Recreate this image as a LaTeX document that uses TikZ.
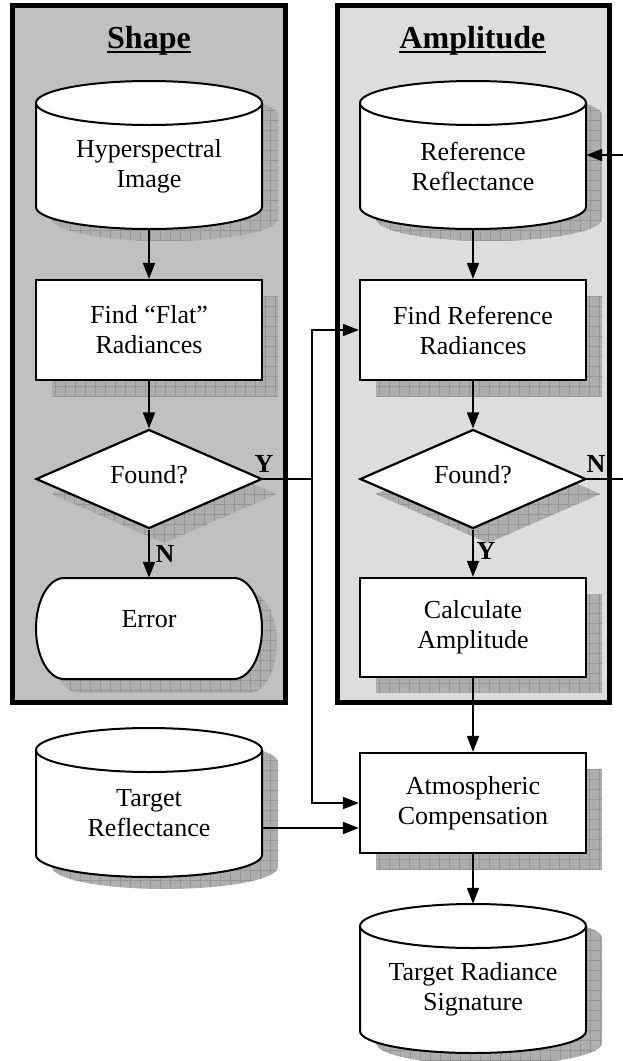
\documentclass[tikz,border=0pt]{standalone}
\usepackage{fontspec}
\setmainfont{Liberation Serif}
\usetikzlibrary{shapes.geometric, arrows.meta, calc}
\pgfdeclarelayer{bg}
\pgfdeclarelayer{shd}
\pgfsetlayers{bg,shd,main}
\definecolor{darkpanel}{RGB}{192,192,192}
\definecolor{lightpanel}{RGB}{221,221,221}
\definecolor{shadowfill}{RGB}{174,174,174}
\definecolor{shadowgrid}{RGB}{150,150,150}
% cylinder outline: options, cx, y of top ellipse centre, y of bottom ellipse centre
\newcommand{\mycyl}[4]{%
  \path[#1] ({#2-113},#3) -- ({#2-113},#4)
    arc[start angle=180, end angle=360, x radius=113pt, y radius=22pt]
    -- ({#2+113},#3)
    arc[start angle=0, end angle=180, x radius=113pt, y radius=22pt] -- cycle;}
\newcommand{\mycyltop}[3]{%
  \path[#1] ({#2-113},#3) arc[start angle=180, end angle=360, x radius=113pt, y radius=22pt];}
% terminal (Error) outline: options, dx, dy
\newcommand{\myerr}[3]{%
  \path[#1] ({64+#2},{578+#3}) -- ({234+#2},{578+#3})
    arc[start angle=90, end angle=-90, x radius=28pt, y radius=50.5pt]
    -- ({64+#2},{679+#3})
    arc[start angle=270, end angle=90, x radius=28pt, y radius=50.5pt] -- cycle;}
\begin{document}
\begin{tikzpicture}[x=1pt,y=-1pt,
  every node/.style={inner sep=0pt},
  panel/.style={rectangle, draw=black, line width=5pt},
  titlest/.style={font=\fontsize{32pt}{36pt}\selectfont\bfseries, anchor=base},
  txt/.style={font=\fontsize{26pt}{30pt}\selectfont, align=center},
  lbl/.style={font=\fontsize{26pt}{30pt}\selectfont\bfseries},
  holder/.style={rectangle, draw=none, minimum width=226pt},
  procbox/.style={rectangle, draw=black, fill=white, line width=2.2pt,
    minimum width=226pt, minimum height=100pt, align=center,
    font=\fontsize{26pt}{30pt}\selectfont},
  decision/.style={diamond, draw=black, fill=white, line width=2.2pt,
    minimum width=226pt, minimum height=99pt},
  cylst/.style={draw=black, fill=white, line width=2pt},
  shadowst/.style={fill=shadowfill, path picture={
    \draw[shadowgrid, line width=0.8pt, step=10pt]
      (path picture bounding box.south west) grid (path picture bounding box.north east);}},
  conn/.style={draw=black, line width=1.8pt},
  arrow/.style={conn, -{Triangle[length=16pt, width=12pt]}},
  uline/.style={draw=black, line width=2.5pt}
]
\useasboundingbox (0,0) rectangle (623,1061);

% panels
\begin{pgfonlayer}{bg}
  \node[panel, fill=darkpanel, minimum width=273.5pt, minimum height=697.5pt] (shapepanel) at (148.75,353.75) {};
  \node[panel, fill=lightpanel, minimum width=272.5pt, minimum height=697.5pt] (amppanel) at (473.25,353.75) {};
\end{pgfonlayer}

% titles
\node[titlest] (shapettl) at (149,48) {Shape};
\node[titlest] (ampttl) at (472.5,48) {Amplitude};
\draw[uline] ([yshift=-4pt]shapettl.base west) -- ([yshift=-4pt]shapettl.base east);
\draw[uline] ([yshift=-4pt]ampttl.base west) -- ([yshift=-4pt]ampttl.base east);

% cylinder holders
\node[holder, minimum height=148pt] (hyp) at (149,155) {};
\node[holder, minimum height=148pt] (refl) at (473,155) {};
\node[holder, minimum height=149pt] (trefl) at (149,802.5) {};
\node[holder, minimum height=149pt] (trs) at (473,978.5) {};
\node[holder, minimum height=101pt] (err) at (149,628.5) {};

% cylinder and terminal outlines
\mycyl{cylst}{149}{103}{207}
\mycyltop{cylst}{149}{103}
\mycyl{cylst}{473}{103}{207}
\mycyltop{cylst}{473}{103}
\mycyl{cylst}{149}{750}{855}
\mycyltop{cylst}{149}{750}
\mycyl{cylst}{473}{926}{1031}
\mycyltop{cylst}{473}{926}
\myerr{cylst}{0}{0}

% texts of cylinders and terminal
\node[txt] (hypt) at (149,166) {Hyperspectral\\Image};
\node[txt] (reflt) at (473,166) {Reference\\Reflectance};
\node[txt] (trefltxt) at (149,813.5) {Target\\Reflectance};
\node[txt] (trstxt) at (473,989.5) {Target Radiance\\Signature};
\node[txt, anchor=base] (errt) at (149,627) {Error};

% process boxes
\node[procbox] (flat) at (149,330) {Find “Flat”\\Radiances};
\node[procbox] (refrad) at (473,330) {Find Reference\\Radiances};
\node[procbox, minimum height=99pt] (calc) at (473,627.5) {Calculate\\Amplitude};
\node[procbox] (atm) at (473,803) {Atmospheric\\Compensation};

% decisions
\node[decision] (found1) at (149,479) {};
\node[txt, anchor=base] (found1t) at (149,483) {Found?};
\node[decision] (found2) at (473,479) {};
\node[txt, anchor=base] (found2t) at (473,483) {Found?};

% shadows
\begin{pgfonlayer}{shd}
  \mycyl{shadowst}{165}{115}{219}
  \mycyl{shadowst}{489}{115}{219}
  \mycyl{shadowst}{165}{762}{867}
  \mycyl{shadowst}{489}{938}{1043}
  \myerr{shadowst}{15}{14}
  \node[procbox, draw=none, shadowst] (flats) at ([shift={(16,16)}]flat.center) {};
  \node[procbox, draw=none, shadowst] (refrads) at ([shift={(16,16)}]refrad.center) {};
  \node[procbox, draw=none, shadowst, minimum height=99pt] (calcs) at ([shift={(16,16)}]calc.center) {};
  \node[procbox, draw=none, shadowst] (atms) at ([shift={(16,16)}]atm.center) {};
  \node[decision, draw=none, shadowst] (found1s) at ([shift={(15,15)}]found1.center) {};
  \node[decision, draw=none, shadowst] (found2s) at ([shift={(15,15)}]found2.center) {};
\end{pgfonlayer}

% connectors
\draw[arrow] (hyp.south) -- (flat.north);
\draw[arrow] (flat.south) -- (found1.north);
\draw[arrow] (found1.south) -- (err.north);
\draw[arrow] (refl.south) -- (refrad.north);
\draw[arrow] (refrad.south) -- (found2.north);
\draw[arrow] (found2.south) -- (calc.north);
\draw[arrow] (calc.south) -- (atm.north);
\draw[arrow] (atm.south) -- (trs.north);
\coordinate (yjoin) at (312,479);
\draw[arrow] (found1.east) -| (yjoin |- refrad.west) -- (refrad.west);
\draw[arrow] (yjoin) |- (atm.west);
\coordinate (atmin) at ([yshift=-25pt]atm.west);
\draw[arrow] (trefl.east |- atmin) -- (atmin);
\coordinate (nout) at (623,479);
\draw[conn] (found2.east) -- (nout);
\coordinate (nin) at (623,155);
\draw[arrow] (nin) -- (refl.east);

% branch labels
\node[lbl] (y1) at (264,464) {Y};
\node[lbl] (n1) at (165,554) {N};
\node[lbl] (y2) at (486,551) {Y};
\node[lbl] (n2) at (596,464) {N};
\end{tikzpicture}
\end{document}
